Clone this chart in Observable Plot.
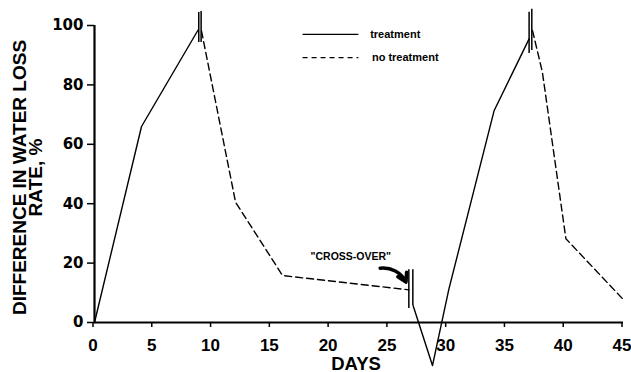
<!DOCTYPE html>
<html><head><meta charset="utf-8">
<script src="https://cdn.jsdelivr.net/npm/d3@7"></script>
<script src="https://cdn.jsdelivr.net/npm/@observablehq/plot@0.6"></script>
<style>
body{margin:0;background:#fff}
#chart svg{display:block}
</style>
</head><body><div id="chart"></div>
<script>
// ---- data ----
const seriesNames = ["treatment", "no treatment"];

const treatment1Days = [0, 4, 8.8];
const treatment1Vals = [0, 66, 98.4];
const noTreatment1Days = [9.1, 12, 16, 26.74];
const noTreatment1Vals = [98.2, 40.5, 15.8, 11];
const treatment2Days = [27.1, 28.75, 30.15, 34, 35.8, 36.97];
const treatment2Vals = [5.7, -14.5, 11.3, 71.4, 86, 95.5];
const noTreatment2Days = [37.26, 38.1, 40.1, 45.06];
const noTreatment2Vals = [98.3, 84.3, 28.2, 7.4];

const breakDays = [8.87, 9.07, 26.74, 27.08, 36.97, 37.2];
const breakLow  = [94.3, 94.3, 4.7, 5.7, 90.6, 91.6];
const breakHigh = [104.4, 104.7, 17.8, 17.8, 104.5, 105.5];

const xTicks = [0, 5, 10, 15, 20, 25, 30, 35, 40, 45];
const yTicks = [0, 20, 40, 60, 80, 100];

const xLabel = "DAYS";
const yLabel = "DIFFERENCE IN WATER LOSS\nRATE, %";
const annotationText = "\"CROSS-OVER\"";

// ---- build tables ----
function seg(days, vals, series, id) {
  return days.map((d, i) => ({day: d, value: vals[i], series, seg: id}));
}
const lineData = [
  ...seg(treatment1Days, treatment1Vals, seriesNames[0], "a"),
  ...seg(noTreatment1Days, noTreatment1Vals, seriesNames[1], "b"),
  ...seg(treatment2Days, treatment2Vals, seriesNames[0], "c"),
  ...seg(noTreatment2Days, noTreatment2Vals, seriesNames[1], "d")
];
const solid = lineData.filter(d => d.series === seriesNames[0]);
const dashed = lineData.filter(d => d.series === seriesNames[1]);
const breaks = breakDays.map((d, i) => ({day: d, lo: breakLow[i], hi: breakHigh[i]}));

const legend = seriesNames.map((name, i) => ({
  name, x1: 17.7, x2: 22.45, tx: 23.45 + i * 0.15, y: 97 - i * 7.8, dashed: i === 1
}));

const tickFont = "'DejaVu Sans', sans-serif";
const sansFont = "'Liberation Sans', Arial, sans-serif";

const chart = Plot.plot({
  width: 631,
  height: 372,
  marginLeft: 94,
  marginRight: 8,
  marginTop: 25,
  marginBottom: 50,
  x: {domain: [0, 45]},
  y: {domain: [0, 100]},
  style: {background: "#fff", color: "#000", fontFamily: sansFont},
  marks: [
    Plot.axisX({ticks: xTicks, tickSize: 5, tickPadding: 11, fontSize: 17, fontWeight: "bold",
      fontFamily: sansFont, dx: -1.5, strokeWidth: 1.5, label: null}),
    Plot.axisY({ticks: yTicks, tickSize: 7, tickPadding: 4, fontSize: 15, fontWeight: "bold",
      fontFamily: tickFont, strokeWidth: 1.5, label: null}),
    Plot.text([xLabel], {frameAnchor: "bottom", dx: -3, dy: 47, text: d => d, fontSize: 18.5,
      fontWeight: "bold", fontFamily: sansFont, lineAnchor: "bottom"}),
    Plot.text([yLabel], {frameAnchor: "left", rotate: -90, dx: -66, dy: 3.5, text: d => d,
      fontSize: 19, lineHeight: 0.85, fontWeight: "bold", fontFamily: sansFont,
      lineAnchor: "middle", textAnchor: "middle"}),
    Plot.ruleX([0], {y1: 0, y2: 100, strokeWidth: 2.2}),
    Plot.ruleY([0], {x1: 0, x2: 45, strokeWidth: 2}),
    Plot.line(solid, {x: "day", y: "value", z: "seg", stroke: "#000", strokeWidth: 1.4}),
    Plot.line(dashed, {x: "day", y: "value", z: "seg", stroke: "#000", strokeWidth: 1.4,
      strokeDasharray: "7,4"}),
    Plot.ruleX(breaks, {x: "day", y1: "lo", y2: "hi", stroke: "#000", strokeWidth: 1.5}),
    // legend
    Plot.link(legend.filter(d => !d.dashed), {x1: "x1", x2: "x2", y1: "y", y2: "y", stroke: "#000", strokeWidth: 1.3}),
    Plot.link(legend.filter(d => d.dashed), {x1: "x1", x2: "x2", y1: "y", y2: "y", stroke: "#000", strokeWidth: 1.3,
      strokeDasharray: "5,4"}),
    Plot.text(legend, {x: "tx", y: "y", text: "name", textAnchor: "start", fontSize: 11,
      fontWeight: "bold", fontFamily: sansFont}),
    // annotation
    Plot.text([annotationText], {x: 21.8, y: 22.2, text: d => d, fontSize: 10.5, fontWeight: "bold",
      fontFamily: sansFont}),
    Plot.arrow([{x1: 24.3, y1: 18.3, x2: 26.5, y2: 13.6}], {x1: "x1", y1: "y1", x2: "x2", y2: "y2",
      bend: 35, strokeWidth: 3.5, headLength: 7, stroke: "#000"})
  ]
});
document.getElementById("chart").appendChild(chart);
</script>
</body></html>
